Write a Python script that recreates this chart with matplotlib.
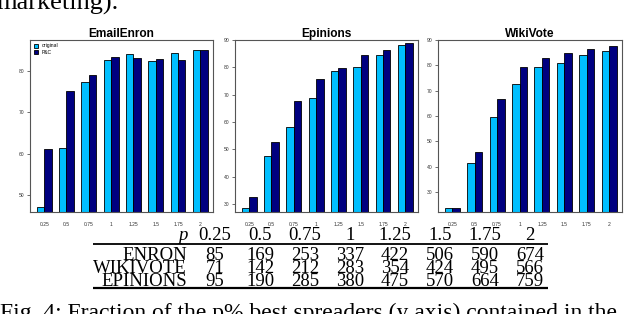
import numpy as np
import matplotlib
matplotlib.use('Agg')
import matplotlib.pyplot as plt

# fraction of the p% best spreaders
p_labels = ['0.25', '0.5', '0.75', '1', '1.25', '1.5', '1.75', '2']

enron_orig = [47.2, 61.5, 77.4, 82.7, 84.0, 82.5, 84.4, 85.2]
enron_pc = [61.1, 75.2, 79.0, 83.3, 83.1, 82.9, 82.7, 85.2]

epinions_orig = [28.5, 47.6, 58.3, 68.7, 78.8, 80.2, 84.5, 88.0]
epinions_pc = [32.6, 52.8, 67.8, 75.6, 79.8, 84.5, 86.3, 88.8]

wikivote_orig = [23.8, 41.5, 59.6, 72.6, 79.5, 80.8, 84.2, 85.5]
wikivote_pc = [23.8, 45.8, 66.6, 79.5, 82.8, 85.0, 86.3, 87.6]

# table below the plots
table_rows = ['ENRON', 'WIKIVOTE', 'EPINIONS']
enron_n = [85, 169, 253, 337, 422, 506, 590, 674]
wikivote_n = [71, 142, 212, 283, 354, 424, 495, 566]
epinions_n = [95, 190, 285, 380, 475, 570, 664, 759]

LIGHT = '#00bfff'
DARK = '#000080'
W, H = 640, 314


def px_box(x0, y0, x1, y1):
    return [x0 / W, 1 - y1 / H, (x1 - x0) / W, (y1 - y0) / H]


def barpanel(ax, orig, pc, title, ylim, yticks, legend=False):
    n = len(orig)
    left = 1 + 3 * np.arange(n)
    ax.bar(left, orig, width=1, align='edge', color=LIGHT, edgecolor='black',
           linewidth=0.6, label='original')
    ax.bar(left + 1, pc, width=1, align='edge', color=DARK, edgecolor='black',
           linewidth=0.6, label='P&C')
    ax.set_xlim(0.1, 24.7)
    ax.set_ylim(*ylim)
    ax.set_yticks(yticks)
    ax.set_xticks(left + 1)
    ax.set_xticklabels(p_labels)
    ax.tick_params(axis='x', length=0, pad=7, labelsize=3.6, colors='#333333')
    ax.tick_params(axis='y', length=2.5, width=0.5, pad=1.5, labelsize=3.6,
                   colors='#333333')
    for s in ax.spines.values():
        s.set_color('#555555')
        s.set_linewidth(0.8)
    ax.set_title(title, fontsize=8.6, fontweight='bold', pad=1.5,
                 family='Liberation Sans')
    if legend:
        ax.legend(loc='upper left', frameon=False, fontsize=3.6,
                  handlelength=0.8, handleheight=0.8, handletextpad=0.8,
                  labelspacing=0.3, borderaxespad=0.3)


plt.rcParams['font.family'] = ['Liberation Sans', 'DejaVu Sans']
fig = plt.figure(figsize=(6.4, 3.14), dpi=100)

ax1 = fig.add_axes(px_box(30, 40, 213, 212))
barpanel(ax1, enron_orig, enron_pc, 'EmailEnron', (45.96, 87.5), [50, 60, 70, 80],
         legend=True)
ax2 = fig.add_axes(px_box(235, 40, 418, 212))
barpanel(ax2, epinions_orig, epinions_pc, 'Epinions', (27.1, 90),
         [30, 40, 50, 60, 70, 80, 90])
ax3 = fig.add_axes(px_box(438, 40, 622, 212))
barpanel(ax3, wikivote_orig, wikivote_pc, 'WikiVote', (22.1, 90),
         [30, 40, 50, 60, 70, 80, 90])

# overlay axes in pixel units for the table and the page text
tx = fig.add_axes([0, 0, 1, 1])
tx.set_xlim(0, W)
tx.set_ylim(H, 0)
tx.axis('off')
tx.patch.set_alpha(0)

serif = 'Liberation Serif'
tsize = 13.5
col_x = 215 + 45 * np.arange(len(p_labels))
label_right = 187

tx.text(label_right, 240, 'p', ha='right', va='baseline', fontsize=tsize,
        family=serif, style='italic')
for x, lab in zip(col_x, p_labels):
    tx.text(x, 240, lab, ha='center', va='baseline', fontsize=tsize, family=serif)

tx.hlines(244, 93, 548, color='black', linewidth=1.3)
row_y = [260, 273.3, 285.7]
for y, name, vals in zip(row_y, table_rows, [enron_n, wikivote_n, epinions_n]):
    tx.text(label_right, y, name, ha='right', va='baseline', fontsize=tsize,
            family=serif)
    for x, v in zip(col_x, vals):
        tx.text(x, y, str(v), ha='center', va='baseline', fontsize=tsize,
                family=serif)
tx.hlines(287.5, 93, 548, color='black', linewidth=1.6)

tx.text(-4, 9.3, 'marketing).', ha='left', va='baseline', fontsize=19,
        family=serif)
tx.text(0, 319.5, 'Fig. 4: Fraction of the p% best spreaders (y axis) contained in the',
        ha='left', va='baseline', fontsize=17, family=serif)

fig.savefig('out.png', dpi=100)
